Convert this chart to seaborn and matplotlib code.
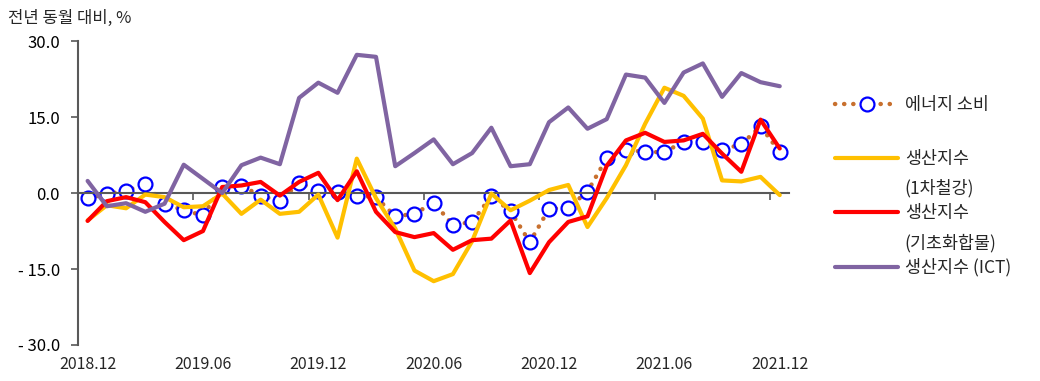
import numpy as np
import pandas as pd
import matplotlib
matplotlib.use("Agg")
import matplotlib.pyplot as plt
import seaborn as sns
from matplotlib.lines import Line2D

months = [p.strftime("%Y.%m") for p in pd.period_range("2018-12", "2021-12", freq="M")]
tick_labels = ["2018.12", "2019.06", "2019.12", "2020.06", "2020.12", "2021.06", "2021.12"]

energy = [-1.0, -0.2, 0.5, 1.7, -2.1, -3.4, -4.4, 1.2, 1.4, -0.5, -1.6, 2.0, 0.5, 0.2, -0.5,
          -0.8, -4.6, -4.1, -1.9, -6.3, -5.7, -0.6, -3.6, -9.7, -3.1, -2.9, 0.3, 6.9, 8.6,
          8.1, 8.1, 10.1, 10.1, 8.6, 9.6, 13.2, 8.1]
steel = [-5.4, -2.4, -3.0, -0.3, -0.8, -2.8, -2.6, -0.1, -4.1, -1.3, -4.1, -3.7, -0.3, -8.8,
         6.8, -1.0, -7.0, -15.3, -17.4, -16.0, -9.5, -0.1, -3.4, -1.5, 0.6, 1.6, -6.7, -1.0,
         5.5, 13.7, 20.8, 19.2, 14.7, 2.5, 2.3, 3.2, -0.4]
chem = [-5.5, -1.6, -0.8, -1.8, -5.7, -9.3, -7.5, 1.2, 1.5, 2.2, -0.5, 2.2, 4.0, -1.4, 4.3,
        -3.7, -7.7, -8.7, -7.9, -11.2, -9.3, -9.0, -5.4, -15.8, -9.7, -5.7, -4.6, 5.4, 10.4,
        11.9, 10.1, 10.4, 11.7, 7.8, 4.2, 14.5, 8.8]
ict = [2.4, -2.6, -2.0, -3.7, -2.1, 5.6, 2.8, 0.0, 5.5, 7.0, 5.7, 18.8, 21.8, 19.8, 27.3,
       26.9, 5.3, 7.9, 10.6, 5.7, 7.9, 12.9, 5.3, 5.7, 14.0, 16.9, 12.7, 14.6, 23.4, 22.8,
       17.8, 23.8, 25.6, 19.0, 23.7, 21.9, 21.1]

df = pd.DataFrame({"month": months, "x": np.arange(len(months)),
                   "energy": energy, "steel": steel, "chem": chem, "ict": ict})

sns.set_theme(style="white")
plt.rcParams["font.family"] = ["Noto Sans CJK KR", "DejaVu Sans"]

fig = plt.figure(figsize=(10.4, 3.81), dpi=100)
ax = fig.add_axes([0.075, 0.0945, 0.684, 0.7975])

C_DOT = "#C8702E"
C_Y = "#FFC000"
C_R = "#FF0000"
C_P = "#8064A2"

sns.lineplot(data=df, x="x", y="energy", ax=ax, color=C_DOT, lw=3.2,
             linestyle=(0, (0.05, 2.0)), dash_capstyle="round",
             marker="o", markersize=10, markerfacecolor="white",
             markeredgecolor="#0000FF", markeredgewidth=1.6, zorder=2, sort=False)
sns.lineplot(data=df, x="x", y="steel", ax=ax, color=C_Y, lw=3.0, zorder=3, sort=False)
sns.lineplot(data=df, x="x", y="chem", ax=ax, color=C_R, lw=3.0, zorder=4, sort=False)
sns.lineplot(data=df, x="x", y="ict", ax=ax, color=C_P, lw=3.0, zorder=5, sort=False)

ax.set_xlim(-0.5, len(months) - 0.5)
ax.set_ylim(-30, 30)
ax.set_xlabel("")
ax.set_ylabel("")

# y axis
gray = "#595959"
ax.set_yticks([-30, -15, 0, 15, 30])
ax.set_yticklabels(["- 30.0", "- 15.0", "0.0", "15.0", "30.0"], fontsize=12, color="black")
ax.tick_params(axis="y", direction="out", length=5, width=1.2, color=gray, pad=8, left=True)
for s in ["top", "right"]:
    ax.spines[s].set_visible(False)
ax.spines["left"].set_color(gray)
ax.spines["left"].set_linewidth(1.5)

# x axis line at zero with boundary ticks
ax.spines["bottom"].set_position(("data", 0))
ax.spines["bottom"].set_color(gray)
ax.spines["bottom"].set_linewidth(1.5)
ax.set_xticks([i + 5.5 for i in range(0, 36, 6)])
ax.set_xticklabels([])
ax.tick_params(axis="x", direction="out", length=5, width=1.2, color=gray, bottom=True)

# category labels at bottom
sec = ax.secondary_xaxis("bottom")
sec.set_xticks([months.index(t) for t in tick_labels])
sec.set_xticklabels(tick_labels, fontsize=11.5)
sec.tick_params(length=0, pad=8)
sec.spines["bottom"].set_visible(False)

ax.grid(False)

# legend
handles = [
    Line2D([], [], color=C_DOT, lw=3.2, linestyle=(0, (0.05, 2.0)), dash_capstyle="round",
           marker="o", markersize=10, markerfacecolor="white",
           markeredgecolor="#0000FF", markeredgewidth=1.6),
    Line2D([], [], color=C_Y, lw=3.0),
    Line2D([], [], color=C_R, lw=3.0),
    Line2D([], [], color=C_P, lw=3.0),
]
labels = ["에너지 소비", "생산지수", "생산지수", "생산지수 (ICT)"]
leg = fig.legend(handles, labels, loc="center left", bbox_to_anchor=(0.803, 0.5105),
                 frameon=False, fontsize=12.5, handlelength=3.63, handletextpad=0.4,
                 labelspacing=2.07, borderpad=0, borderaxespad=0, numpoints=1)
fig.text(0.870, 1 - 188 / 381, "(1차철강)", fontsize=12.5, va="center", ha="left")
fig.text(0.870, 1 - 243 / 381, "(기초화합물)", fontsize=12.5, va="center", ha="left")

fig.text(0.008, 1 - 18 / 381, "전년 동월 대비, %", fontsize=12, va="center", ha="left")

fig.savefig("out.png", dpi=100)
